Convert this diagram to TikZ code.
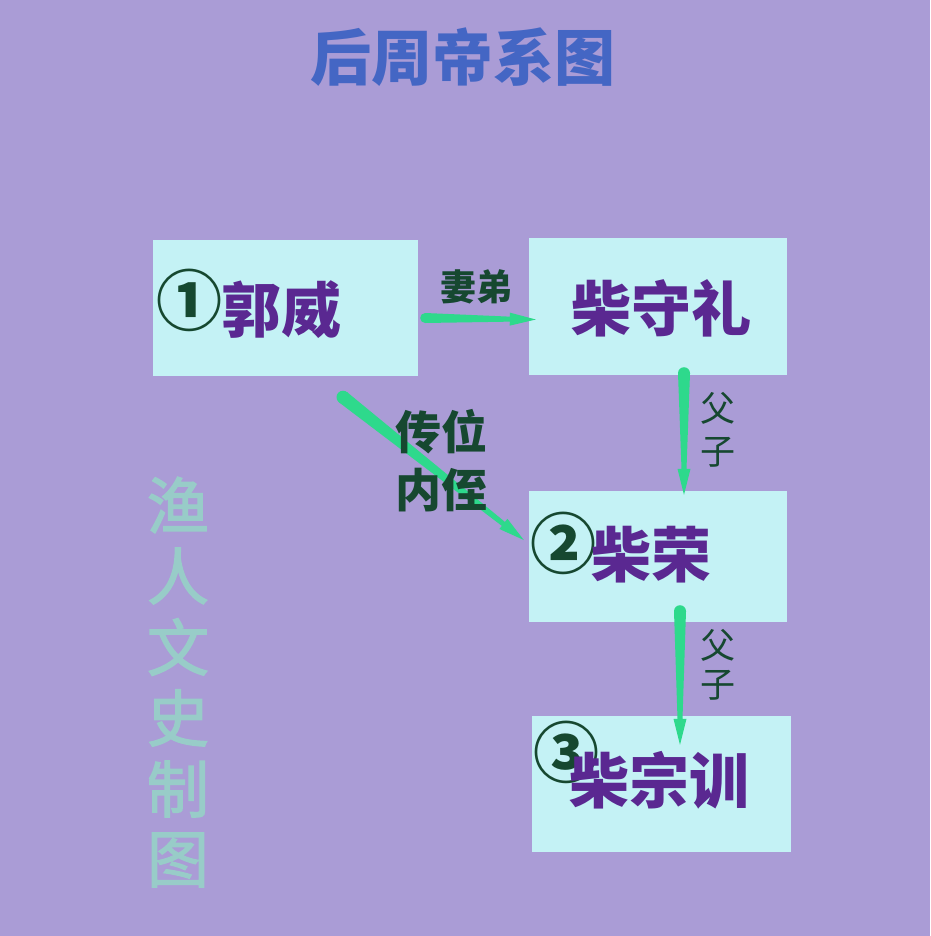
\documentclass[tikz,border=0pt]{standalone}
\usepackage{fontspec}
\setmainfont{Noto Sans CJK SC}
\usetikzlibrary{calc}

\definecolor{bglav}{RGB}{170,156,214}
\definecolor{boxcyan}{RGB}{196,242,245}
\definecolor{namepurple}{RGB}{90,40,145}
\definecolor{labelgreen}{RGB}{22,72,48}
\definecolor{arrowgreen}{RGB}{46,217,140}
\definecolor{titleblue}{RGB}{68,102,196}
\definecolor{marktint}{RGB}{152,204,200}

% tapered arrow from #1 to #2 (start half width #3)
\newcommand{\taperarrow}[3]{%
  \coordinate (hb) at ($(#2)!26pt!(#1)$);
  \fill[arrowgreen] (#1) circle (#3);
  \fill[arrowgreen] ($(#1)!#3!90:(#2)$) -- ($(hb)!2.5pt!90:(#2)$)
    -- ($(hb)!6.5pt!90:(#2)$) -- (#2) -- ($(hb)!6.5pt!-90:(#2)$)
    -- ($(hb)!2.5pt!-90:(#2)$) -- ($(#1)!#3!-90:(#2)$) -- cycle;
}

\tikzset{
  namebox/.style={fill=boxcyan, inner sep=0pt},
  who/.style={text=namepurple, font=\fontsize{60}{60}\selectfont\bfseries, inner sep=0pt},
  num/.style={text=labelgreen, font=\fontsize{66}{66}\selectfont\bfseries, inner sep=0pt},
  rel/.style={text=labelgreen, font=\fontsize{36}{36}\selectfont\bfseries, inner sep=0pt},
  kin/.style={text=labelgreen, font=\fontsize{35}{35}\selectfont, inner sep=0pt},
}

\begin{document}
\begin{tikzpicture}[x=1pt, y=-1pt]
  % background
  \fill[bglav] (0,0) rectangle (930,936);
  \useasboundingbox (0,0) rectangle (930,936);

  % title
  \node[text=titleblue, font=\fontsize{61}{61}\selectfont\bfseries, inner sep=0pt] (title) at (463,57) {后周帝系图};

  % boxes
  \node[namebox, minimum width=265pt, minimum height=136pt] (guo) at (285.5,308) {};
  \node[namebox, minimum width=258pt, minimum height=137pt] (shou) at (658,306.5) {};
  \node[namebox, minimum width=258pt, minimum height=131pt] (rong) at (658,556.5) {};
  \node[namebox, minimum width=259pt, minimum height=136pt] (xun) at (661.5,784) {};

  % names
  \node[num] (n1) at (189,300) {①};
  \node[who] (guoname) at (281,310) {郭威};
  \node[who] (shouname) at (661,308) {柴守礼};
  \node[num] (n2) at (563,543) {②};
  \node[who] (rongname) at (651,555) {柴荣};
  \node[num] (n3) at (566,752) {③};
  \node[who] (xunname) at (659,780) {柴宗训};

  % connectors
  \coordinate (a1s) at ($(guo.east)+(7,10)$);
  \coordinate (a1e) at ($(shou.west)+(7,13)$);
  \taperarrow{a1s}{a1e}{5pt}
  \coordinate (a2s) at ($(shou.south)+(26,-2)$);
  \coordinate (a2e) at ($(rong.north)+(26,4)$);
  \taperarrow{a2s}{a2e}{6pt}
  \coordinate (a3s) at ($(guo.south)+(57.5,21)$);
  \coordinate (a3e) at ($(rong.west)+(-5,-16.5)$);
  \taperarrow{a3s}{a3e}{6.5pt}
  \coordinate (a4s) at ($(rong.south)+(22,-11)$);
  \coordinate (a4e) at ($(xun.north)+(18.5,29)$);
  \taperarrow{a4s}{a4e}{6pt}

  % relation labels
  \node[rel] (wife) at (476,287) {妻弟};
  \node[rel, font=\fontsize{46}{46}\selectfont\bfseries] (pass1) at (441,432) {传位};
  \node[rel, font=\fontsize{46}{46}\selectfont\bfseries] (pass2) at (441,490) {内侄};
  \node[kin] (fa1) at (718,408) {父};
  \node[kin] (zi1) at (718,452) {子};
  \node[kin] (fa2) at (718,645) {父};
  \node[kin] (zi2) at (718,685) {子};

  % vertical signature
  \foreach \ch [count=\i from 0] in {渔,人,文,史,制,图}
    \node[text=marktint, font=\fontsize{62}{62}\selectfont\addfontfeatures{FakeBold=2}, inner sep=0pt] (mark\i) at (178,505+71*\i) {\ch};
\end{tikzpicture}
\end{document}
